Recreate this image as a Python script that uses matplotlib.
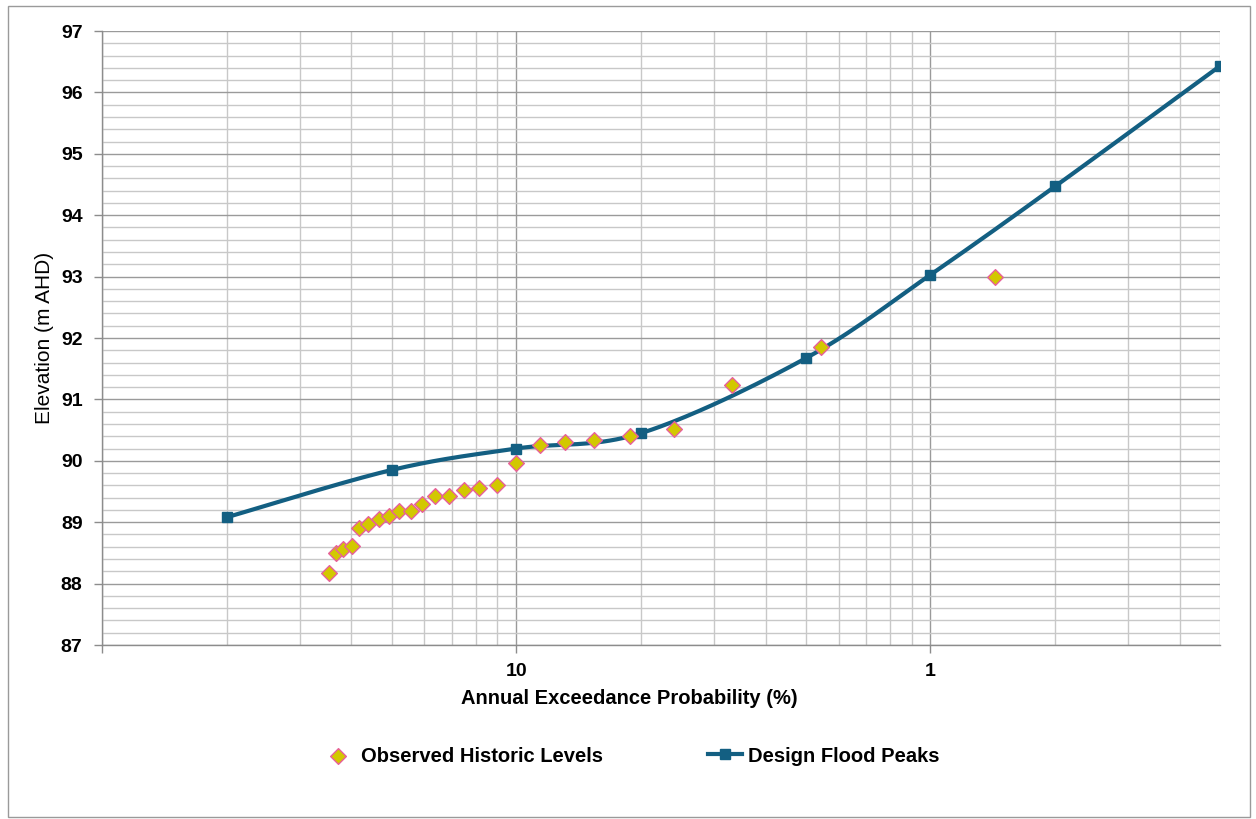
import numpy as np
import matplotlib
matplotlib.use("Agg")
import matplotlib.pyplot as plt
from matplotlib.ticker import FixedLocator, NullFormatter, FixedFormatter, MultipleLocator
from matplotlib.patches import Rectangle

plt.rcParams['font.family'] = ['Liberation Sans', 'DejaVu Sans']

# Observed historic levels (AEP %, elevation m AHD)
obs_aep = [28.3, 27.3, 26.2, 24.9, 23.96, 22.8, 21.5, 20.3, 19.2, 17.96, 16.9,
           15.7, 14.5, 13.4, 12.3, 11.1, 10.0, 8.78, 7.64, 6.50, 5.32, 4.16,
           3.01, 1.84, 0.70]
obs_elev = [88.18, 88.50, 88.57, 88.61, 88.90, 88.97, 89.05, 89.10, 89.18, 89.19,
            89.30, 89.42, 89.42, 89.52, 89.56, 89.61, 89.97, 90.25, 90.31, 90.34,
            90.40, 90.52, 91.23, 91.86, 93.00]

# Design flood peaks
des_aep = [50, 20, 10, 5, 2, 1, 0.5, 0.2]
des_elev = [89.08, 89.85, 90.20, 90.45, 91.67, 93.03, 94.47, 96.43]

x_major = [100, 10, 1]
x_major_labels = ['', '10', '1']


def excel_smooth(ax, xs, ys, n=40):
    """Excel-style Bezier smoothing computed in display space."""
    P = ax.transData.transform(np.column_stack([xs, ys]))
    m = len(P)
    pts = []
    for i in range(m - 1):
        p1, p2 = P[i], P[i + 1]
        p0 = P[i - 1] if i > 0 else P[i]
        p3 = P[i + 2] if i + 2 < m else P[i + 1]
        d12 = np.hypot(*(p2 - p1))
        d02 = np.hypot(*(p2 - p0))
        d13 = np.hypot(*(p3 - p1))
        f1 = 1 / 6 if d02 / 6 < d12 / 2 else d12 / (2 * d02)
        f2 = 1 / 6 if d13 / 6 < d12 / 2 else d12 / (2 * d13)
        c1 = p1 + f1 * (p2 - p0)
        c2 = p2 - f2 * (p3 - p1)
        t = np.linspace(0, 1, n)[:, None]
        seg = ((1 - t) ** 3 * p1 + 3 * (1 - t) ** 2 * t * c1
               + 3 * (1 - t) * t ** 2 * c2 + t ** 3 * p2)
        pts.append(seg if i == 0 else seg[1:])
    pts = np.vstack(pts)
    d = ax.transData.inverted().transform(pts)
    return d[:, 0], d[:, 1]


fig = plt.figure(figsize=(12.56, 8.19), dpi=100)
ax = fig.add_axes([102 / 1256, 1 - 645 / 819, (1220 - 102) / 1256, (645 - 31) / 819])

ax.set_xscale('log')
ax.set_xlim(100, 0.2)
ax.set_ylim(87, 97)

ax.xaxis.set_major_locator(FixedLocator(x_major))
ax.xaxis.set_major_formatter(FixedFormatter(x_major_labels))
# minor gridlines at 1/m of each decade (return-period style spacing)
minors = [10.0 ** e / m for e in (2, 1, 0) for m in range(2, 10)]
minors = [v for v in minors if v >= 0.2 - 1e-9]
ax.xaxis.set_minor_locator(FixedLocator(minors))
ax.xaxis.set_minor_formatter(NullFormatter())
ax.yaxis.set_major_locator(MultipleLocator(1))
ax.yaxis.set_minor_locator(MultipleLocator(0.2))

ax.grid(which='major', color='#9a9a9a', linewidth=1.0)
ax.grid(which='minor', color='#c8c8c8', linewidth=1.0)
ax.set_axisbelow(True)

for s in ['top', 'right']:
    ax.spines[s].set_visible(False)
for s in ['left', 'bottom']:
    ax.spines[s].set_color('#8c8c8c')
    ax.spines[s].set_linewidth(1.0)

ax.tick_params(which='major', length=6, color='#8c8c8c', width=1.0, labelsize=14, pad=8)
ax.tick_params(axis='x', which='major', pad=7)
ax.tick_params(which='minor', length=0)
for lab in ax.get_xticklabels() + ax.get_yticklabels():
    lab.set_fontweight('bold')

sx, sy = excel_smooth(ax, des_aep, des_elev)
ax.plot(sx, sy, color='#135f82', linewidth=3, zorder=3)
ax.plot(des_aep, des_elev, linestyle='none', marker='s', markersize=7,
        color='#135f82', zorder=4)
line_handle, = ax.plot([], [], color='#135f82', linewidth=3, marker='s', markersize=7)

obs_handle = ax.scatter(obs_aep, obs_elev, marker='D', s=64, facecolor='#d2c800',
                        edgecolor='#e8609a', linewidth=1.0, zorder=5)

ax.set_xlabel('Annual Exceedance Probability (%)', fontsize=14.5, fontweight='bold', labelpad=6)
ax.xaxis.set_label_coords(0.472, -0.072)
ax.set_ylabel('Elevation (m AHD)', fontsize=15, labelpad=5)

fig.legend([obs_handle, line_handle], ['Observed Historic Levels', 'Design Flood Peaks'],
           loc='center', bbox_to_anchor=(0.502, 1 - 756 / 819), ncol=2, frameon=False,
           prop={'size': 14.5, 'weight': 'bold'}, handlelength=1.7, handletextpad=0.3,
           columnspacing=5.2)

fig.patches.append(Rectangle((8 / 1256, 0.003), 1 - 14 / 1256, 1 - 8 / 819,
                             transform=fig.transFigure, fill=False,
                             edgecolor='#9a9a9a', linewidth=1.0))

fig.savefig('out.png', dpi=100)
